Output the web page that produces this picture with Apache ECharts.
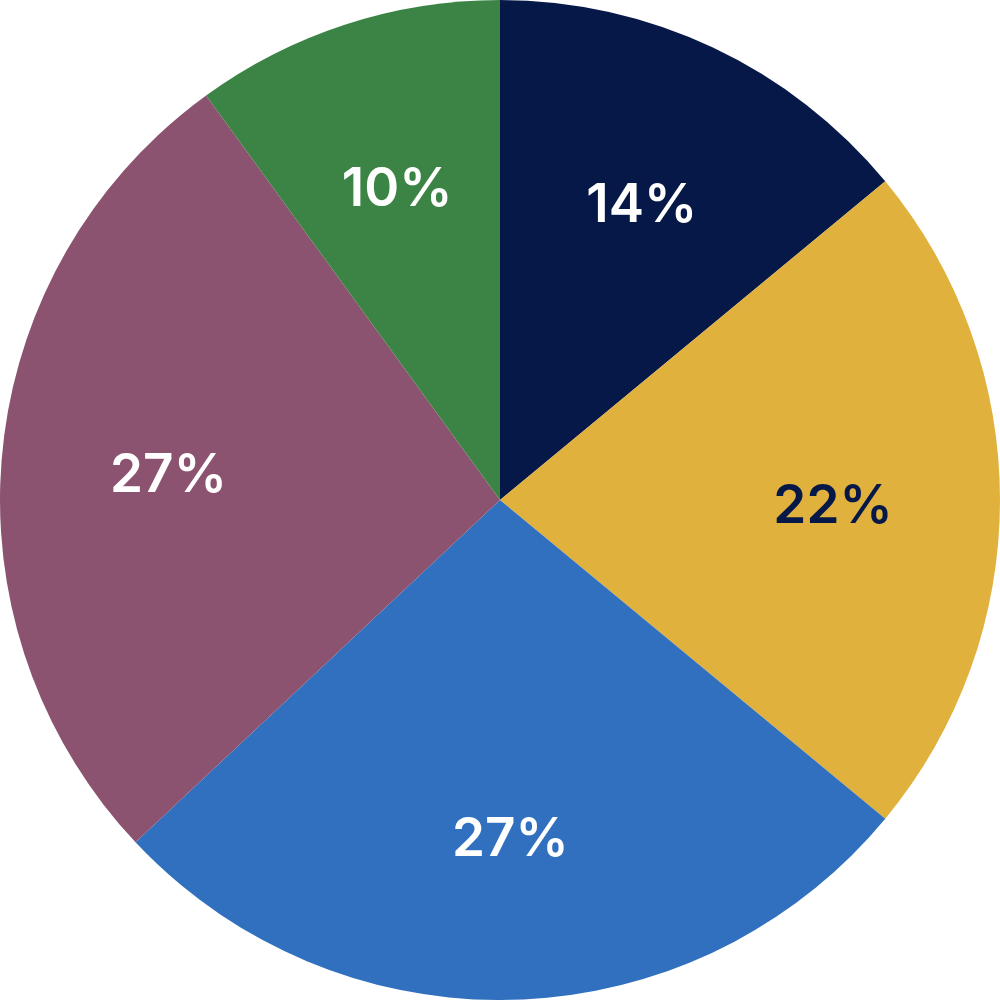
<!DOCTYPE html>
<html>
<head>
<meta charset="utf-8">
<script src="https://cdn.jsdelivr.net/npm/echarts@6/dist/echarts.min.js"></script>
<style>html,body{margin:0;padding:0;background:#fff}#c{width:1000px;height:1000px}</style>
</head>
<body>
<div id="c"></div>
<script>
const categories = ['A', 'B', 'C', 'D', 'E'];
const values = [14, 22, 27, 27, 10];
const colors = ['#061848', '#E0B13C', '#3070BE', '#8B536F', '#3C8445'];
const labelColors = ['#ffffff', '#061848', '#ffffff', '#ffffff', '#ffffff'];

const chart = echarts.init(document.getElementById('c'));
const base = categories.map((n, i) => ({ name: n, value: values[i], itemStyle: { color: colors[i] } }));
const lab = categories.map((n, i) => ({
  name: n, value: values[i],
  itemStyle: { color: 'rgba(0,0,0,0)' },
  label: { color: labelColors[i] }
}));
chart.setOption({
  animation: false,
  series: [
    {
      type: 'pie', center: ['50%', '50%'], radius: ['0%', '100%'],
      startAngle: 90, clockwise: true, silent: true,
      label: { show: false }, labelLine: { show: false },
      itemStyle: { borderWidth: 0 },
      data: base
    },
    {
      type: 'pie', center: ['50%', '50.7%'], radius: ['32%', '100%'],
      startAngle: 90, clockwise: true, silent: true,
      labelLine: { show: false },
      itemStyle: { borderWidth: 0 },
      label: {
        show: true, position: 'inside',
        formatter: p => p.value + '%',
        fontFamily: 'Inter', fontWeight: 600, fontSize: 53
      },
      data: lab
    }
  ]
});
</script>
</body>
</html>
